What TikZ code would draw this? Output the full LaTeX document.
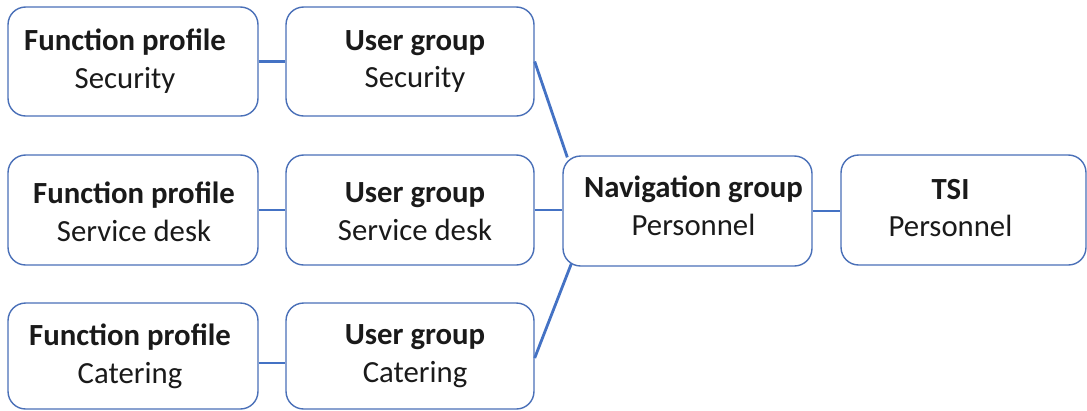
\documentclass[tikz,border=0pt]{standalone}
\usepackage{fontspec}
\setmainfont{Carlito}
\definecolor{boxblue}{HTML}{4A70B8}
\definecolor{linkblue}{HTML}{4472C4}
\definecolor{ink}{HTML}{1A1A1A}
\begin{document}
\begin{tikzpicture}[x=0.02cm,y=-0.02cm,
  box/.style={draw=boxblue, line width=0.8pt, rounded corners=10pt, fill=white, inner sep=0pt},
  txt/.style={align=center, inner sep=0pt, text=ink, font=\fontsize{17.5}{21.5}\selectfont},
  link/.style={draw=linkblue, line width=1.6pt}]
\useasboundingbox (0,0) rectangle (1087,410);

% boxes: function profiles, user groups, navigation group, TSI
\node[box, minimum width=5cm,    minimum height=2.18cm] (fp1) at (133,61.5) {};
\node[box, minimum width=4.96cm, minimum height=2.18cm] (ug1) at (410,61.5) {};
\node[box, minimum width=5cm,    minimum height=2.2cm]  (fp2) at (133,210) {};
\node[box, minimum width=4.96cm, minimum height=2.2cm]  (ug2) at (410,210) {};
\node[box, minimum width=5cm,    minimum height=2.12cm] (fp3) at (133,356) {};
\node[box, minimum width=4.96cm, minimum height=2.12cm] (ug3) at (410,356) {};
\node[box, minimum width=4.98cm, minimum height=2.2cm]  (nav) at (687.5,211) {};
\node[box, minimum width=4.9cm,  minimum height=2.2cm]  (tsi) at (963.5,210) {};

% labels
\node[txt] (fp1t) at ([shift={(-8,0)}]fp1.center) {\textbf{Function profile}\\Security};
\node[txt] (ug1t) at ([shift={(5,0)}]ug1.center) {\textbf{User group}\\Security};
\node[txt] (fp2t) at ([shift={(1,2)}]fp2.center) {\textbf{Function profile}\\Service desk};
\node[txt] (ug2t) at ([shift={(5,2)}]ug2.center) {\textbf{User group}\\Service desk};
\node[txt] (fp3t) at ([shift={(-3,0)}]fp3.center) {\textbf{Function profile}\\Catering};
\node[txt] (ug3t) at ([shift={(5,0)}]ug3.center) {\textbf{User group}\\Catering};
\node[txt] (navt) at ([shift={(6,-5)}]nav.center) {\textbf{Navigation group}\\Personnel};
\node[txt] (tsit) at ([shift={(-13,-2)}]tsi.center) {\textbf{TSI}\\Personnel};

% connector end points on the rounded corners of the navigation group
\coordinate (navtop) at ([shift={(5,2)}]nav.north west);
\coordinate (navbot) at ([shift={(9,-3)}]nav.south west);

% connectors
\draw[link] (fp1.east) -- (ug1.west);
\draw[link] (fp2.east) -- (ug2.west);
\draw[link] ([shift={(0,7)}]fp3.east) -- ([shift={(0,7)}]ug3.west);
\draw[link] (ug1.east) -- (navtop);
\draw[link] (ug2.east) -- (ug2.east -| nav.west);
\draw[link] ([shift={(0,2)}]ug3.east) -- (navbot);
\draw[link] (nav.east) -- (nav.east -| tsi.west);
\end{tikzpicture}
\end{document}
